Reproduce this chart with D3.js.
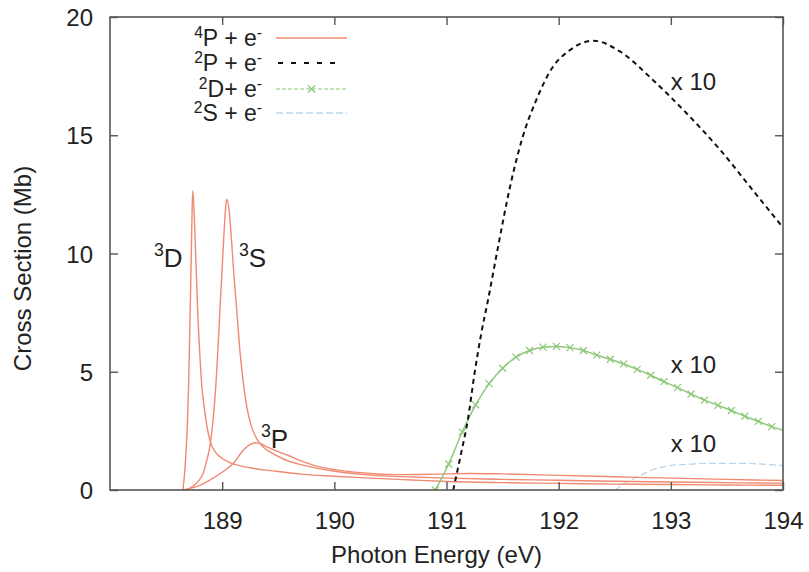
<!DOCTYPE html>
<html><head><meta charset="utf-8">
<script src="https://cdn.jsdelivr.net/npm/d3@7"></script>
<style>
html,body{margin:0;padding:0;background:#fff;}
text{font-family:"Liberation Sans",Arial,Helvetica,sans-serif;fill:#222;}
</style></head>
<body><svg id="c" width="809" height="572"></svg>
<script>
// ---- data (photon energy in eV, cross section in Mb) ----
const xTicks = [189, 190, 191, 192, 193, 194];
const yTicks = [0, 5, 10, 15, 20];

// 4P + e- : three resonances (3D, 3S, 3P)
const res3D_E = [188.65,188.67,188.69,188.70,188.71,188.72,188.73,188.737,188.745,188.76,188.778,188.80,188.817,188.847,188.89,188.94,188.98,189.05,189.13,189.30,189.43,189.72,190.00,190.32,190.70,191.00,191.50,192.00,192.50,193.00,193.50,194.00];
const res3D_V = [0,1.0,2.8,4.3,6.5,8.8,11.3,12.65,12.2,10.5,8.0,5.8,4.5,3.24,2.11,1.6,1.41,1.2,1.06,0.9,0.82,0.66,0.58,0.5,0.42,0.36,0.31,0.28,0.25,0.23,0.21,0.2];

const res3S_E = [188.68,188.75,188.80,188.83,188.86,188.89,188.92,188.95,188.98,189.01,189.03,189.04,189.06,189.08,189.10,189.13,189.16,189.19,189.22,189.26,189.31,189.37,189.43,189.55,189.72,190.02,190.32,190.70,191.00,191.50,192.00,192.50,193.00,193.50,194.00];
const res3S_V = [0,0.2,0.45,0.7,1.2,1.83,3.0,4.9,7.6,10.3,11.9,12.3,11.9,10.8,9.4,7.6,5.8,4.5,3.5,2.7,2.15,1.8,1.6,1.3,1.05,0.78,0.63,0.55,0.5,0.45,0.41,0.37,0.34,0.31,0.29];

const res3P_E = [188.65,188.80,188.89,189.00,189.10,189.19,189.25,189.29,189.33,189.40,189.50,189.58,189.72,189.85,190.02,190.32,190.60,190.90,191.20,191.50,192.00,192.50,193.00,193.50,194.00];
const res3P_V = [0,0.2,0.42,0.75,1.13,1.69,1.93,2.0,1.98,1.82,1.62,1.48,1.2,1.0,0.85,0.7,0.65,0.67,0.7,0.68,0.62,0.56,0.5,0.45,0.4];

// 2P + e- (x10)
const p2_E = [191.06,191.13,191.19,191.25,191.31,191.37,191.46,191.57,191.68,191.80,191.95,192.10,192.31,192.55,192.84,193.14,193.44,193.73,194.00];
const p2_V = [0,1.55,2.96,4.93,6.62,8.03,10.29,12.9,14.94,16.49,17.9,18.6,19.0,18.53,17.34,15.93,14.38,12.68,11.1];

// 2D + e- (x10)
const d2_E = [190.90,191.02,191.14,191.26,191.38,191.50,191.62,191.74,191.86,191.98,192.10,192.22,192.34,192.46,192.58,192.70,192.82,192.94,193.06,193.18,193.30,193.42,193.54,193.66,193.78,193.90,194.00];
const d2_V = [0,1.1,2.45,3.6,4.5,5.15,5.62,5.9,6.04,6.07,6.02,5.9,5.7,5.53,5.33,5.1,4.85,4.58,4.33,4.06,3.8,3.58,3.36,3.12,2.9,2.68,2.52];

// 2S + e- (x10)
const s2_E = [192.50,192.62,192.70,192.80,192.90,193.00,193.20,193.40,193.60,193.80,194.00];
const s2_V = [0,0.35,0.55,0.78,0.95,1.04,1.1,1.13,1.13,1.1,1.03];

const legendLabels = [["4","P + e","-"],["2","P + e","-"],["2","D+ e","-"],["2","S + e","-"]];
const scaleNotes = [[193.0, 16.9],[193.0, 4.95],[193.0, 1.6]]; // "x 10" label anchors

// ---- drawing ----
const svg = d3.select("#c");
const m = {l:110, t:17, r:26, b:82};
const W = 809 - m.l - m.r, H = 572 - m.t - m.b;
const x = d3.scaleLinear().domain([188,194]).range([m.l, m.l+W]);
const y = d3.scaleLinear().domain([0,20]).range([m.t+H, m.t]);

const orange = "#f08a70", green = "#8cc878", blue = "#bcd6ea", frame = "#555";

svg.append("defs").append("clipPath").attr("id","clip")
  .append("rect").attr("x",m.l).attr("y",m.t).attr("width",W).attr("height",H);

const zip = (E,V) => E.map((e,i)=>[e,V[i]]);
const line = d3.line().x(d=>x(d[0])).y(d=>y(d[1])).curve(d3.curveMonotoneX);
const plot = svg.append("g").attr("clip-path","url(#clip)");

plot.append("path").attr("d",line(zip(s2_E,s2_V))).attr("fill","none")
  .attr("stroke",blue).attr("stroke-width",1.3).attr("stroke-dasharray","7,3");
[[res3D_E,res3D_V],[res3S_E,res3S_V],[res3P_E,res3P_V]].forEach(([E,V])=>{
  plot.append("path").attr("d",line(zip(E,V))).attr("fill","none")
    .attr("stroke",orange).attr("stroke-width",1.4);
});
plot.append("path").attr("d",line(zip(d2_E,d2_V))).attr("fill","none")
  .attr("stroke",green).attr("stroke-width",1.5);
const cross = (g, cx, cy, s) => {
  g.append("path").attr("d",`M${cx-s},${cy-s}L${cx+s},${cy+s}M${cx-s},${cy+s}L${cx+s},${cy-s}`)
   .attr("stroke",green).attr("stroke-width",1.2).attr("fill","none");
};
zip(d2_E,d2_V).forEach(d=>{ if(d[0] < 193.95) cross(plot, x(d[0]), y(d[1]), 3.5); });
plot.append("path").attr("d",line(zip(p2_E,p2_V))).attr("fill","none")
  .attr("stroke","#111").attr("stroke-width",2).attr("stroke-dasharray","5,4");

// axes (box with inward ticks)
const ax = svg.append("g");
ax.append("rect").attr("x",m.l).attr("y",m.t).attr("width",W).attr("height",H)
  .attr("fill","none").attr("stroke",frame).attr("stroke-width",1.6);
const xb = svg.append("g").attr("transform",`translate(0,${m.t+H})`)
  .call(d3.axisBottom(x).tickValues(xTicks).tickSize(-8).tickPadding(22).tickFormat(d3.format("d")));
const xt = svg.append("g").attr("transform",`translate(0,${m.t})`)
  .call(d3.axisTop(x).tickValues(xTicks).tickSize(-8).tickFormat(""));
const yl = svg.append("g").attr("transform",`translate(${m.l},0)`)
  .call(d3.axisLeft(y).tickValues(yTicks).tickSize(-8).tickPadding(17).tickFormat(d3.format("d")));
const yr = svg.append("g").attr("transform",`translate(${m.l+W},0)`)
  .call(d3.axisRight(y).tickValues(yTicks).tickSize(-8).tickFormat(""));
[xb,xt,yl,yr].forEach(g=>{
  g.select(".domain").remove();
  g.selectAll(".tick line").attr("stroke",frame).attr("stroke-width",1.4);
  g.selectAll("text").attr("font-size",24).attr("fill","#222")
   .style("font-family",'"Liberation Sans",Arial,sans-serif');
});
yl.selectAll(".tick text").attr("dy","0.36em");

// axis titles
svg.append("text").attr("x", m.l + W/2 - 10).attr("y", 563).attr("text-anchor","middle")
  .attr("font-size",24).text("Photon Energy (eV)");
svg.append("text").attr("transform",`translate(31,${m.t+H/2+15}) rotate(-90)`)
  .attr("text-anchor","middle").attr("font-size",24).text("Cross Section (Mb)");

// superscript helper
function sup(g, xx, yy, pre, main, post, size, anchor, raise){
  const r = raise || 0.42;
  const t = g.append("text").attr("x",xx).attr("y",yy).attr("font-size",size)
    .attr("text-anchor",anchor||"start");
  if(pre){ t.append("tspan").attr("font-size",size*0.68).attr("dy",-size*r).text(pre);
           t.append("tspan").attr("dy",size*r).text(main); }
  else t.append("tspan").text(main);
  if(post) t.append("tspan").attr("font-size",size*0.68).attr("dy",-size*r).text(post);
  return t;
}

// annotations
sup(svg, 154, 267, "3", "D", null, 26);
sup(svg, 239, 267, "3", "S", null, 26);
sup(svg, 261, 448, "3", "P", null, 26);
scaleNotes.forEach(([e,v])=>{
  svg.append("text").attr("x", x(e)).attr("y", y(v)).attr("font-size",24).text("x 10");
});

// legend
const lg = svg.append("g");
const rows = [38, 63, 89, 113];
legendLabels.forEach((lab,i)=>{
  sup(lg, 262, rows[i]+8, lab[0], lab[1], lab[2], 23, "end", 0.34);
});
const lx0 = 276, lx1 = 347;
lg.append("line").attr("x1",lx0).attr("x2",lx1).attr("y1",rows[0]).attr("y2",rows[0])
  .attr("stroke",orange).attr("stroke-width",1.4);
lg.append("line").attr("x1",lx0+2).attr("x2",lx1-10).attr("y1",rows[1]).attr("y2",rows[1])
  .attr("stroke","#111").attr("stroke-width",2).attr("stroke-dasharray","5,8");
lg.append("line").attr("x1",lx0).attr("x2",lx1).attr("y1",rows[2]).attr("y2",rows[2])
  .attr("stroke",green).attr("stroke-width",1.2).attr("stroke-dasharray","4,2");
cross(lg, (lx0+lx1)/2, rows[2], 3.5);
lg.append("line").attr("x1",lx0).attr("x2",lx1).attr("y1",rows[3]).attr("y2",rows[3])
  .attr("stroke",blue).attr("stroke-width",1.3).attr("stroke-dasharray","7,3");
</script></body></html>
